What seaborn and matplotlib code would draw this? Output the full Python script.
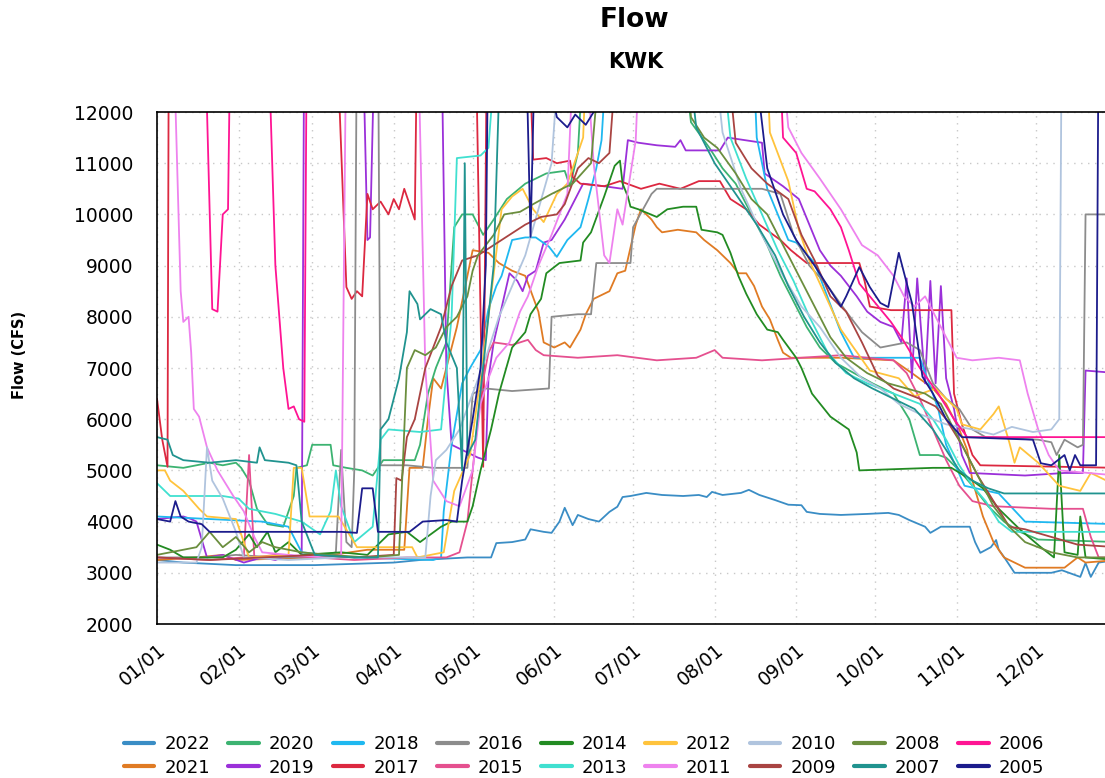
import pandas as pd
import numpy as np
import matplotlib
matplotlib.use('Agg')
import matplotlib.pyplot as plt
import matplotlib.dates as mdates
import seaborn as sns

# ==========================================
# Datos: (dia del año, caudal CFS) leidos del grafico
# valores > 12000 quedan fuera del eje (recortados)
# ==========================================
y2022 = [(0, 3250), (10, 3200), (30, 3150), (60, 3150), (90, 3200), (100, 3250), (118, 3300), (127, 3300),
         (129, 3580), (135, 3600), (140, 3650), (142, 3850), (147, 3800), (150, 3780), (153, 4000), (155, 4270),
         (158, 3930), (160, 4130), (164, 4050), (168, 4000), (172, 4190), (175, 4290), (177, 4480), (180, 4500),
         (186, 4560), (192, 4520), (200, 4500), (206, 4520), (209, 4480), (211, 4580), (215, 4520), (222, 4560),
         (225, 4620), (229, 4520), (235, 4420), (240, 4330), (245, 4320), (247, 4190), (252, 4150), (260, 4130),
         (270, 4150), (278, 4170), (282, 4130), (286, 4030), (292, 3900), (294, 3780), (298, 3900), (309, 3900),
         (311, 3600), (313, 3390), (317, 3500), (319, 3640), (320, 3450), (322, 3310), (326, 3000), (340, 3000),
         (344, 3050), (351, 2920), (353, 3190), (355, 2920), (358, 3200), (365, 3250)]
y2021 = [(0, 3250), (15, 3300), (25, 3350), (30, 3250), (60, 3300), (80, 3450), (94, 3450), (96, 5050),
         (101, 5050), (103, 6000), (105, 6800), (108, 6600), (114, 7800), (120, 9300), (126, 9250), (130, 9050),
         (135, 8900), (140, 8800), (145, 8100), (147, 7500), (151, 7400), (155, 7500), (157, 7400), (161, 7750),
         (163, 8050), (166, 8350), (168, 8400), (172, 8500), (175, 8850), (178, 8900), (180, 9350), (182, 9800),
         (184, 10100), (186, 10000), (188, 9900), (190, 9750), (192, 9650), (198, 9700), (205, 9650), (208, 9500),
         (213, 9300), (218, 9050), (221, 8850), (224, 8850), (227, 8600), (230, 8200), (233, 7950), (236, 7550),
         (238, 7300), (241, 7200), (260, 7200), (280, 7150), (287, 6900), (295, 6600), (300, 6300), (305, 5800),
         (308, 5400), (310, 4800), (314, 4100), (318, 3600), (322, 3300), (330, 3100), (345, 3100), (350, 3300),
         (353, 3200), (365, 3250)]
y2020 = [(0, 5100), (10, 5050), (20, 5150), (25, 5100), (30, 5150), (32, 5050), (35, 4800), (38, 4250),
         (42, 3950), (48, 3900), (52, 4500), (53, 5050), (57, 5100), (59, 5500), (66, 5500), (67, 5100),
         (72, 5050), (78, 5000), (82, 4900), (86, 5200), (98, 5200), (100, 5500), (103, 6500), (106, 7000),
         (110, 7500), (113, 9750), (116, 10000), (120, 10000), (124, 9600), (128, 9900), (133, 10300),
         (140, 10600), (148, 10800), (155, 10850), (157, 10550), (160, 11200), (163, 14000), (198, 14000),
         (203, 11800), (210, 11300), (215, 10900), (220, 10600), (226, 10000), (232, 9400), (237, 8800),
         (242, 8300), (247, 7800), (252, 7400), (258, 7100), (265, 6900), (272, 6700), (280, 6500), (286, 6000),
         (290, 5300), (297, 5300), (300, 5250), (305, 5000), (310, 4700), (316, 4300), (322, 4000), (328, 3800),
         (335, 3650), (365, 3600)]
y2019 = [(0, 4050), (10, 4100), (13, 4050), (15, 4000), (17, 3650), (19, 3300), (25, 3350), (33, 3200),
         (40, 3300), (45, 3250), (50, 3350), (55, 3300), (56, 14000), (78, 14000), (80, 9500), (81, 9550),
         (83, 14000), (108, 14000), (110, 7000), (112, 5500), (116, 5400), (122, 5250), (125, 5200), (126, 6800),
         (128, 7500), (132, 8400), (134, 8850), (137, 8700), (139, 8500), (141, 8800), (144, 8900), (147, 9450),
         (150, 9500), (155, 9900), (160, 10400), (162, 10600), (170, 10550), (177, 10500), (179, 11450),
         (183, 11400), (190, 11350), (197, 11320), (199, 11450), (201, 11250), (214, 11250), (217, 11500),
         (230, 11400), (231, 10800), (238, 10550), (244, 10300), (248, 9800), (252, 9300), (256, 9000),
         (260, 8800), (266, 8400), (270, 8100), (275, 7900), (280, 7800), (283, 7500), (285, 8750), (287, 6800),
         (289, 8750), (292, 6700), (294, 8700), (296, 6700), (298, 8600), (300, 6800), (303, 6200), (306, 5300),
         (309, 4950), (330, 4900), (345, 4950), (352, 4950), (353, 6950), (365, 6900)]
y2018 = [(0, 4100), (20, 4050), (40, 4000), (50, 3900), (55, 3400), (75, 3300), (105, 3250), (108, 3300),
         (109, 4200), (112, 5500), (116, 6700), (119, 7000), (123, 7350), (126, 8150), (129, 8600), (131, 8800),
         (135, 9500), (140, 9550), (144, 9550), (149, 9370), (152, 9170), (156, 9500), (161, 9750), (164, 10300),
         (167, 10900), (169, 11450), (172, 14000), (226, 14000), (228, 11500), (232, 10500), (236, 10000),
         (240, 9500), (243, 9450), (250, 9050), (257, 8100), (260, 7700), (265, 7200), (290, 7200), (297, 6200),
         (300, 5500), (307, 4700), (320, 4550), (330, 4000), (365, 3950)]
y2017 = [(0, 6400), (2, 5600), (4, 5070), (4.5, 14000), (68, 14000), (72, 8580), (74, 8350), (76, 8500),
         (78, 8400), (80, 10400), (82, 10100), (85, 10250), (88, 10000), (90, 10300), (92, 10100), (94, 10500),
         (96, 10200), (98, 9900), (99, 14000), (121, 14000), (124, 5070), (125.5, 14000), (141, 14000),
         (143, 11070), (148, 11100), (152, 11000), (157, 11050), (158, 10730), (161, 10600), (170, 10550),
         (176, 10650), (184, 10500), (191, 10600), (199, 10500), (206, 10650), (214, 10650), (218, 10300),
         (224, 10100), (229, 9800), (237, 9500), (241, 9300), (247, 9050), (267, 9050), (269, 8700), (271, 8200),
         (279, 8130), (302, 8130), (303, 6500), (306, 5900), (310, 5300), (313, 5100), (365, 5050)]
y2016 = [(0, 3300), (20, 3300), (30, 3350), (45, 3300), (60, 3300), (68, 3400), (70, 5400), (72, 3600),
         (74, 3500), (75, 5000), (76, 14000), (84, 14000), (85, 5100), (95, 5100), (105, 5050), (118, 5050),
         (120, 6500), (125, 6600), (135, 6550), (149, 6600), (150, 8000), (160, 8050), (165, 8050), (167, 9050),
         (180, 9050), (181, 9750), (188, 10400), (190, 10500), (230, 10500), (237, 10400), (242, 9600),
         (248, 9000), (255, 8600), (262, 8100), (268, 7700), (275, 7400), (285, 7500), (290, 7350), (295, 6700),
         (300, 6400), (305, 6200), (310, 5800), (315, 5650), (335, 5600), (340, 5550), (342, 5300), (345, 5600),
         (350, 5450), (352, 5500), (353, 10000), (365, 10000)]
y2015 = [(0, 3300), (20, 3250), (33, 3300), (35, 5300), (37, 3300), (45, 3350), (60, 3300), (75, 3250),
         (95, 3300), (110, 3300), (115, 3400), (118, 4000), (120, 5000), (123, 6500), (126, 7300), (128, 7500),
         (135, 7450), (141, 7550), (144, 7350), (147, 7250), (160, 7200), (175, 7250), (190, 7150), (205, 7200),
         (212, 7350), (215, 7200), (230, 7150), (245, 7200), (260, 7250), (270, 7200), (280, 7150), (285, 6900),
         (290, 6400), (295, 5800), (300, 5200), (305, 4700), (310, 4400), (318, 4300), (340, 4250), (352, 4250),
         (355, 3700), (358, 3300), (365, 3300)]
y2014 = [(0, 3550), (5, 3450), (10, 3300), (25, 3300), (30, 3450), (35, 3750), (38, 3500), (42, 3800),
         (45, 3400), (50, 3600), (55, 3350), (70, 3400), (80, 3350), (88, 3750), (95, 3800), (100, 3600),
         (108, 3900), (112, 4000), (118, 4000), (120, 4300), (123, 5000), (127, 5800), (130, 6500), (135, 7400),
         (140, 7700), (142, 8050), (146, 8350), (148, 8850), (153, 9050), (161, 9100), (162, 9450), (165, 9650),
         (170, 10350), (174, 10950), (176, 11050), (177, 10600), (179, 10350), (180, 10150), (183, 10100),
         (190, 9950), (194, 10100), (200, 10150), (205, 10150), (207, 9700), (213, 9650), (215, 9600),
         (218, 9250), (221, 8800), (224, 8450), (228, 8050), (232, 7750), (236, 7700), (238, 7550), (243, 7200),
         (245, 7000), (249, 6500), (256, 6050), (263, 5800), (266, 5350), (267, 5000), (295, 5050), (302, 5050),
         (310, 4800), (314, 4650), (320, 4250), (328, 3850), (336, 3500), (341, 3300), (343, 5300), (345, 3400),
         (350, 3350), (351, 4100), (353, 3300), (365, 3250)]
y2013 = [(0, 4750), (5, 4500), (25, 4500), (31, 4450), (35, 4250), (45, 4150), (55, 4000), (62, 3750),
         (66, 4200), (68, 5000), (70, 4300), (75, 3600), (82, 3900), (85, 5600), (88, 5800), (100, 5750),
         (108, 5800), (112, 8000), (114, 11100), (123, 11150), (126, 11300), (130, 14000),
         (213, 14000), (218, 11500), (224, 10700), (230, 10000), (236, 9300), (242, 8700), (248, 8000),
         (255, 7300), (262, 6900), (270, 6700), (280, 6500), (290, 6300), (295, 6000), (300, 5600), (305, 5100),
         (310, 4700), (315, 4400), (320, 4000), (325, 3800), (365, 3800)]
y2012 = [(0, 5000), (3, 5000), (5, 4800), (10, 4600), (16, 4250), (19, 4100), (30, 4050), (35, 3300),
         (50, 3350), (52, 5050), (55, 5050), (58, 4100), (69, 4100), (76, 3500), (97, 3500), (99, 3300),
         (109, 3400), (113, 4600), (119, 5300), (121, 6050), (126, 8000), (131, 10100), (135, 10350),
         (139, 10500), (143, 10100), (147, 9850), (152, 10400), (156, 10600), (162, 11500), (164, 14000),
         (231, 14000), (233, 11600), (240, 10650), (244, 9700), (248, 9100), (260, 7750), (271, 6950),
         (282, 6800), (288, 6450), (296, 6600), (304, 6200), (306, 5900), (313, 5800), (318, 6100), (320, 6250),
         (324, 5550), (326, 5150), (328, 5450), (335, 5150), (343, 4700), (351, 4600), (355, 4950), (365, 4700)]
y2011 = [(0, 14000), (6, 14000), (9, 8500), (10, 7900), (12, 8000), (13, 7300), (14, 6200), (16, 6050),
         (19, 5450), (23, 5000), (29, 4500), (33, 4200), (37, 3700), (40, 3400), (50, 3350), (65, 3300),
         (70, 3350), (72, 14000), (99, 14000), (102, 7000), (105, 4800), (110, 4400), (115, 4300), (120, 5000),
         (123, 6300), (126, 6800), (129, 7200), (134, 7500), (138, 8100), (141, 8400), (145, 9000), (150, 9600),
         (156, 10400), (159, 14000), (162, 14000), (166, 11000), (170, 9200), (172, 9050), (175, 10100),
         (177, 9800), (182, 11450), (184, 14000), (236, 14000), (240, 11700), (245, 11200), (252, 10700),
         (260, 10100), (268, 9400), (274, 9200), (280, 8800), (284, 8400), (288, 8200), (292, 8400), (296, 8000),
         (300, 7600), (304, 7200), (310, 7150), (320, 7200), (328, 7150), (331, 6500), (335, 5800), (339, 5300),
         (343, 5000), (365, 4900)]
y2010 = [(0, 3200), (15, 3200), (17, 3500), (19, 5450), (21, 4800), (25, 4450), (30, 3800), (33, 3300),
         (50, 3250), (70, 3300), (102, 3300), (104, 4500), (106, 5200), (110, 5400), (115, 5800), (120, 6500),
         (125, 7200), (130, 8000), (135, 8600), (140, 9200), (145, 10100), (150, 11000), (154, 14000),
         (210, 14000), (215, 11600), (222, 10500), (230, 9600), (238, 8800), (245, 8200), (252, 7800),
         (260, 7200), (268, 6800), (275, 6600), (282, 6300), (290, 6100), (300, 5900), (310, 5800), (318, 5700),
         (325, 5850), (333, 5750), (340, 5800), (343, 6000), (344, 14000), (365, 14000)]
y2009 = [(0, 3300), (20, 3250), (40, 3300), (60, 3350), (75, 3300), (90, 3350), (91, 4850), (93, 4800),
         (95, 5650), (98, 6000), (102, 7000), (108, 7800), (112, 8600), (116, 9100), (122, 9200), (128, 9400),
         (134, 9600), (140, 9800), (146, 9950), (152, 10000), (155, 10200), (160, 10900), (164, 11100),
         (168, 11000), (172, 11200), (176, 14000), (215, 14000), (220, 11400), (226, 10900), (232, 10600),
         (240, 10300), (245, 9600), (250, 9100), (256, 8400), (262, 8100), (268, 7500), (274, 6850), (280, 6600),
         (290, 6400), (296, 6250), (300, 6000), (306, 5500), (312, 4900), (318, 4400), (324, 3900), (330, 3850),
         (340, 3700), (350, 3550), (365, 3500)]
y2008 = [(0, 3350), (15, 3500), (20, 3800), (25, 3500), (30, 3700), (35, 3400), (40, 3600), (45, 3500),
         (55, 3400), (65, 3350), (80, 3300), (92, 3350), (95, 7000), (98, 7350), (102, 7250), (106, 7400),
         (110, 7800), (114, 8000), (118, 8400), (120, 8900), (122, 9200), (128, 9600), (132, 10000),
         (138, 10050), (143, 10200), (150, 10400), (158, 10600), (165, 11000), (170, 14000), (200, 14000),
         (203, 11900), (208, 11500), (213, 11300), (220, 10800), (226, 10300), (232, 10000), (238, 9400),
         (244, 8800), (250, 8200), (256, 7600), (262, 7200), (270, 6900), (278, 6700), (285, 6600), (292, 6500),
         (298, 6300), (303, 5800), (308, 5300), (313, 4800), (318, 4300), (324, 3900), (330, 3600), (340, 3400),
         (350, 3300), (365, 3300)]
y2007 = [(0, 5650), (4, 5600), (6, 5300), (10, 5200), (20, 5150), (30, 5200), (38, 5150), (39, 5450),
         (41, 5200), (50, 5150), (53, 5100), (55, 4000), (60, 3350), (75, 3300), (84, 3300), (85, 5800),
         (88, 6000), (92, 6800), (95, 7700), (96, 8500), (99, 8250), (100, 7950), (104, 8150), (108, 8050),
         (110, 7500), (114, 7000), (116, 5000), (117, 11000), (118, 5300), (121, 5600), (125, 7500), (128, 9000),
         (131, 14000), (200, 14000), (205, 11700), (212, 11000), (220, 10400), (228, 9800), (235, 9200),
         (240, 8600), (246, 8000), (252, 7500), (258, 7100), (265, 6800), (272, 6600), (280, 6400), (288, 6200),
         (295, 5800), (300, 5400), (305, 5000), (310, 4800), (316, 4650), (322, 4550), (365, 4550)]
y2006 = [(0, 14000), (18, 14000), (21, 8150), (23, 8100), (25, 10000), (27, 10100), (28, 14000), (42, 14000),
         (45, 9000), (48, 7000), (50, 6200), (52, 6250), (54, 6000), (56, 5950), (57, 14000), (236, 14000),
         (238, 11500), (243, 11200), (247, 10500), (250, 10450), (256, 10100), (260, 9750), (263, 9300),
         (267, 8650), (271, 8400), (275, 8150), (279, 7900), (283, 7600), (290, 7000), (297, 6500), (303, 6000),
         (308, 5650), (365, 5650)]
y2005 = [(0, 4050), (5, 4000), (7, 4400), (9, 4100), (12, 4000), (17, 3950), (20, 3800), (40, 3800),
         (70, 3800), (76, 3780), (78, 4650), (82, 4650), (84, 3800), (96, 3800), (101, 4000), (110, 4030),
         (114, 4000), (116, 4800), (120, 6000), (123, 7000), (125, 9000), (126, 14000), (140, 14000),
         (142, 9560), (144, 14000), (152, 11900), (156, 11700), (159, 11950), (163, 11750), (166, 12000),
         (168, 14000), (225, 14000), (232, 10900), (238, 10000), (243, 9500), (250, 9000), (255, 8600),
         (260, 8200), (262, 8400), (267, 8970), (271, 8580), (275, 8270), (278, 8190), (282, 9250), (285, 8660),
         (287, 8270), (291, 6830), (295, 6500), (300, 6000), (306, 5650), (333, 5600), (336, 5140), (340, 5100),
         (345, 5300), (347, 5000), (349, 5300), (351, 5100), (357, 5100), (358, 14000), (360, 14000),
         (362, 10900), (365, 10900)]

years = ['2022', '2021', '2020', '2019', '2018', '2017', '2016', '2015', '2014',
         '2013', '2012', '2011', '2010', '2009', '2008', '2007', '2006', '2005']
series = [y2022, y2021, y2020, y2019, y2018, y2017, y2016, y2015, y2014,
          y2013, y2012, y2011, y2010, y2009, y2008, y2007, y2006, y2005]
colores = ['#3a8dc5', '#e07b24', '#3cb371', '#9b30d9', '#1fb8f0', '#dc2840', '#8c8c8c', '#e5508f', '#228b22',
           '#40e0d0', '#ffc33c', '#ee82ee', '#b0c4de', '#a94442', '#6b8e3e', '#20938f', '#ff1493', '#1c1c8c']

# tabla larga para seaborn
filas = []
for yr, pts in zip(years, series):
    for dia, q in pts:
        filas.append((yr, pd.Timestamp('2022-01-01') + pd.Timedelta(days=dia), q))
df = pd.DataFrame(filas, columns=['year', 'date', 'flow'])

# ==========================================
# Grafico
# ==========================================
sns.set_theme(style='white')
plt.rcParams['font.family'] = ['DejaVu Sans']
plt.rcParams['text.color'] = 'black'
plt.rcParams['xtick.color'] = 'black'
plt.rcParams['ytick.color'] = 'black'

fig = plt.figure(figsize=(11.05, 7.78), dpi=100)
ax = fig.add_axes([157 / 1105, 154 / 778, 960.0 / 1105, 512 / 778])

sns.lineplot(data=df, x='date', y='flow', hue='year', hue_order=years,
             palette=dict(zip(years, colores)), estimator=None, sort=False,
             linewidth=1.3, ax=ax)

handles, labels = ax.get_legend_handles_labels()
ax.get_legend().remove()

ax.set_xlim(pd.Timestamp('2022-01-01'), pd.Timestamp('2022-12-31 23:00'))
ax.set_ylim(2000, 12000)
ax.set_yticks(range(2000, 12001, 1000))
ax.xaxis.set_major_locator(mdates.MonthLocator())
ax.xaxis.set_major_formatter(mdates.DateFormatter('%m/%d'))
ax.xaxis.set_minor_locator(mdates.DayLocator(bymonthday=[11, 21]))
ax.tick_params(axis='x', which='major', length=7, width=1, direction='out', labelsize=13.5, pad=5)
ax.tick_params(axis='x', which='minor', length=4, width=1, direction='out')
ax.tick_params(axis='y', which='major', length=7, width=1, direction='out', labelsize=13.5, pad=10)
for lbl in ax.get_xticklabels():
    lbl.set_rotation(40)
    lbl.set_ha('right')
    lbl.set_rotation_mode('anchor')

ax.grid(True, which='major', color='#c8c8c8', linestyle=(0, (1, 4)), linewidth=1.0)
for s in ['left', 'bottom', 'top']:
    ax.spines[s].set_color('black')
    ax.spines[s].set_linewidth(1.2)
ax.spines['right'].set_visible(False)
ax.set_xlabel('')
ax.set_ylabel('')

fig.text(20 / 1105, 1 - 355 / 778, 'Flow (CFS)', rotation=90, ha='center', va='center',
         fontsize=10.5, fontweight='bold')
fig.text(634 / 1105, 1 - 20 / 778, 'Flow', ha='center', va='center', fontsize=19, fontweight='bold')
fig.text(636 / 1105, 1 - 62 / 778, 'KWK', ha='center', va='center', fontsize=15, fontweight='bold')

fig.legend(handles, labels, loc='center', bbox_to_anchor=(584 / 1105, 1 - 756 / 778), ncol=9,
           frameon=False, fontsize=13, handlelength=1.7, handletextpad=0.55, columnspacing=1.0,
           labelspacing=0.3, borderaxespad=0, borderpad=0)
for h in fig.legends[0].get_lines():
    h.set_linewidth(3)

fig.savefig('out.png', dpi=100)
